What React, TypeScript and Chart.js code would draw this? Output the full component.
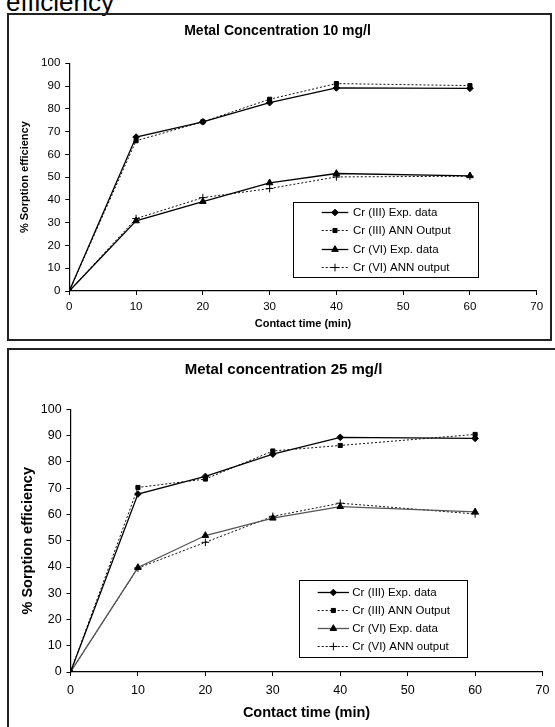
import React, { useEffect, useRef } from 'react';
import { Chart, registerables } from 'chart.js';
import { drawPoint } from 'chart.js/helpers';

Chart.register(...registerables);

// ---------- data ----------
const contactTime = [0, 10, 20, 30, 40, 60];
const seriesLabels = ['Cr (III) Exp. data', 'Cr (III) ANN Output', 'Cr (VI) Exp. data', 'Cr (VI) ANN output'];

// Metal concentration 10 mg/l
const cr3Exp10 = [0, 67.6, 74.3, 82.7, 89.2, 89.0];
const cr3Ann10 = [0, 66.0, 74.3, 84.2, 91.1, 90.2];
const cr6Exp10 = [0, 30.8, 39.3, 47.5, 51.6, 50.6];
const cr6Ann10 = [0, 31.8, 41.0, 45.0, 50.1, 50.4];

// Metal concentration 25 mg/l
const cr3Exp25 = [0, 67.8, 74.5, 83.0, 89.4, 89.0];
const cr3Ann25 = [0, 70.3, 73.5, 84.2, 86.3, 90.5];
const cr6Exp25 = [0, 39.8, 52.0, 58.6, 63.0, 61.0];
const cr6Ann25 = [0, 39.6, 49.4, 59.3, 64.3, 60.2];

const xMin = 0;
const xMax = 70;
const xStep = 10;
const yMin = 0;
const yMax = 100;
const yStep = 10;

const title10 = 'Metal Concentration 10 mg/l';
const title25 = 'Metal concentration 25 mg/l';
const xAxisTitle = 'Contact time (min)';
const yAxisTitle = '% Sorption efficiency';
const topFragment = 'efficiency';

// ---------- styles ----------
const FONT = "'Liberation Sans', Arial, Helvetica, sans-serif";

const seriesStyles = [
  { pointStyle: 'rectRot', radius: 3.3, dash: [] as number[], width: 1.3 },
  { pointStyle: 'rect', radius: 2.9, dash: [2, 2], width: 1 },
  { pointStyle: 'triangle', radius: 3.8, dash: [] as number[], width: 1.3 },
  { pointStyle: 'cross', radius: 3.8, dash: [2, 2], width: 1 },
];

const boxLegendPlugin = {
  id: 'boxLegend',
  afterDatasetsDraw(chart: any, _args: any, opts: any) {
    const { ctx } = chart;
    const b = opts.box;
    ctx.save();
    ctx.fillStyle = '#fff';
    ctx.fillRect(b.x, b.y, b.w, b.h);
    ctx.strokeStyle = '#000';
    ctx.lineWidth = 1;
    ctx.strokeRect(Math.round(b.x) + 0.5, Math.round(b.y) + 0.5, Math.round(b.w), Math.round(b.h));
    chart.data.datasets.forEach((ds: any, i: number) => {
      const y = Math.round(b.y + opts.rowStart + i * opts.rowGap) + 0.5;
      const x1 = b.x + opts.lineX1;
      const x2 = b.x + opts.lineX2;
      ctx.save();
      ctx.strokeStyle = ds.borderColor;
      ctx.lineWidth = ds.borderWidth;
      ctx.setLineDash(ds.borderDash || []);
      ctx.beginPath();
      ctx.moveTo(x1, y);
      ctx.lineTo(x2, y);
      ctx.stroke();
      ctx.restore();
      ctx.fillStyle = '#000';
      ctx.strokeStyle = '#000';
      ctx.lineWidth = 1;
      drawPoint(ctx, { pointStyle: ds.pointStyle, radius: ds.pointRadius, borderWidth: 1, rotation: 0 } as any, (x1 + x2) / 2, y);
      ctx.fillStyle = '#000';
      ctx.font = opts.font;
      ctx.textBaseline = 'middle';
      ctx.textAlign = 'left';
      ctx.fillText(ds.label, b.x + opts.textX, y);
    });
    ctx.restore();
  },
};

type Panel = {
  left: number; top: number; w: number; h: number;
  title: string; titleSize: number; titlePad: { top: number; bottom: number };
  pad: { left: number; right: number; top: number; bottom: number };
  yWidth: number; xHeight: number;
  tickSize: number; xTickPad: number; yTickPad: number;
  axisTitleSize: number;
  lineColors: string[];
  series: number[][];
  legend: any;
};

function buildConfig(p: Panel): any {
  const datasets = p.series.map((s, i) => ({
    label: seriesLabels[i],
    data: contactTime.map((t, j) => ({ x: t, y: s[j] })),
    borderColor: p.lineColors[i],
    backgroundColor: '#000',
    borderWidth: seriesStyles[i].width,
    borderDash: seriesStyles[i].dash,
    pointStyle: seriesStyles[i].pointStyle,
    pointRadius: seriesStyles[i].radius,
    pointHoverRadius: seriesStyles[i].radius,
    pointBackgroundColor: '#000',
    pointBorderColor: '#000',
    pointBorderWidth: 1,
    tension: 0,
    fill: false,
  }));
  const tickFont = { family: FONT, size: p.tickSize };
  const axisTitleFont = { family: FONT, size: p.axisTitleSize, weight: 'bold' };
  const grid = { display: true, drawOnChartArea: false, drawTicks: true, tickLength: 4, color: '#000', lineWidth: 1 };
  return {
    type: 'line',
    data: { datasets },
    plugins: [boxLegendPlugin],
    options: {
      responsive: false,
      animation: false,
      devicePixelRatio: 1,
      events: [],
      layout: { padding: p.pad },
      plugins: {
        legend: { display: false },
        tooltip: { enabled: false },
        title: {
          display: true,
          text: p.title,
          color: '#000',
          font: { family: FONT, size: p.titleSize, weight: 'bold' },
          padding: p.titlePad,
        },
        boxLegend: p.legend,
      },
      scales: {
        x: {
          type: 'linear',
          min: xMin,
          max: xMax,
          ticks: { stepSize: xStep, color: '#000', font: tickFont, padding: p.xTickPad, maxRotation: 0, autoSkip: false },
          grid,
          border: { display: true, color: '#000', width: 1.2 },
          title: { display: true, text: xAxisTitle, color: '#000', font: axisTitleFont, padding: 0 },
          afterFit: (s: any) => { s.height = p.xHeight; },
        },
        y: {
          type: 'linear',
          min: yMin,
          max: yMax,
          ticks: { stepSize: yStep, color: '#000', font: tickFont, padding: p.yTickPad, autoSkip: false },
          grid,
          border: { display: true, color: '#000', width: 1.2 },
          title: { display: true, text: yAxisTitle, color: '#000', font: axisTitleFont, padding: 0 },
          afterFit: (s: any) => { s.width = p.yWidth; },
        },
      },
    },
  };
}

const topPanel: Panel = {
  left: 10, top: 16, w: 539, h: 323,
  title: title10, titleSize: 14, titlePad: { top: 6.6, bottom: 23.9 },
  pad: { left: 8.4, right: 12.3, top: 0, bottom: 8.4 },
  yWidth: 50.9, xHeight: 39.6,
  tickSize: 11.5, xTickPad: 4.7, yTickPad: 5,
  axisTitleSize: 11,
  lineColors: ['#000', '#111', '#000', '#111'],
  series: [cr3Exp10, cr3Ann10, cr6Exp10, cr6Ann10],
  legend: {
    box: { x: 282.7, y: 186.3, w: 185, h: 75.4 },
    rowStart: 10, rowGap: 18.1, lineX1: 29, lineX2: 55.6, textX: 60.3,
    font: `11.5px ${FONT}`,
  },
};

const bottomPanel: Panel = {
  left: 10, top: 351, w: 547, h: 376,
  title: title25, titleSize: 15, titlePad: { top: 10, bottom: 30.5 },
  pad: { left: 9.1, right: 9, top: 0, bottom: 5.6 },
  yWidth: 51.4, xHeight: 49.4,
  tickSize: 12.5, xTickPad: 7.5, yTickPad: 4.8,
  axisTitleSize: 14.5,
  lineColors: ['#000', '#111', '#555', '#111'],
  series: [cr3Exp25, cr3Ann25, cr6Exp25, cr6Ann25],
  legend: {
    box: { x: 289, y: 229, w: 167.7, h: 77.3 },
    rowStart: 11.7, rowGap: 18.1, lineX1: 18.7, lineX2: 50, textX: 53.3,
    font: `11.5px ${FONT}`,
  },
};

function ChartCanvas({ panel }: { panel: Panel }) {
  const ref = useRef<HTMLCanvasElement>(null);
  useEffect(() => {
    if (!ref.current) return;
    const chart = new Chart(ref.current, buildConfig(panel));
    return () => chart.destroy();
  }, [panel]);
  return (
    <canvas
      ref={ref}
      width={panel.w}
      height={panel.h}
      style={{ position: 'absolute', left: panel.left, top: panel.top, width: panel.w, height: panel.h }}
    />
  );
}

export default function App() {
  return (
    <div style={{ position: 'absolute', left: 0, top: 0, width: 555, height: 727, overflow: 'hidden', background: '#fff' }}>
      <div
        style={{
          position: 'absolute', left: 6, top: -11, fontFamily: FONT, fontSize: 26, lineHeight: '26px', color: '#000', whiteSpace: 'nowrap',
        }}
      >
        {topFragment}
      </div>
      <div style={{ position: 'absolute', left: 7, top: 13, width: 545, height: 328, border: '2px solid #222', boxSizing: 'border-box' }} />
      <div style={{ position: 'absolute', left: 7, top: 348, width: 560, height: 400, border: '2px solid #222', boxSizing: 'border-box' }} />
      <ChartCanvas panel={topPanel} />
      <ChartCanvas panel={bottomPanel} />
    </div>
  );
}
